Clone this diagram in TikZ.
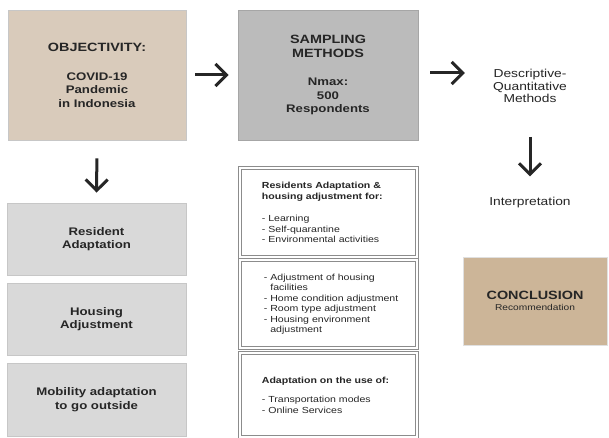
\documentclass[tikz,border=0pt]{standalone}
\usepackage{fontspec}
\setmainfont{Liberation Sans}[FakeStretch=1.2]
\usetikzlibrary{arrows.meta}
\definecolor{tanA}{RGB}{217,203,187}
\definecolor{tanB}{RGB}{204,181,152}
\definecolor{grayA}{RGB}{187,187,187}
\definecolor{grayB}{RGB}{217,217,217}
\definecolor{txt}{RGB}{38,38,38}
\begin{document}
\begin{tikzpicture}[x=1pt,y=-1pt,
  bigbox/.style={draw=black!22, line width=0.8pt, inner sep=0pt, align=center, text=txt,
    font=\bfseries\fontsize{11}{13.5}\selectfont},
  listbox/.style={draw=black!45, double=white, double distance=2pt, line width=0.6pt, inner sep=0pt},
  listtext/.style={align=left, anchor=west, inner sep=0pt, text=txt, font=\fontsize{8.8}{10.5}\selectfont},
  plain/.style={align=center, inner sep=0pt, text=txt, font=\fontsize{11.5}{12.5}\selectfont},
  arr/.style={-{Straight Barb[length=11pt,width=22pt]}, line width=3pt, black!85}]
\useasboundingbox (0,0) rectangle (609,438);
\fill[white] (0,0) rectangle (609,438);

% top row
\node[bigbox, fill=tanA, minimum width=178, minimum height=130] (obj) at (97,75)
  {{\fontsize{12}{13.5}\selectfont OBJECTIVITY:}\\[15.5pt]COVID-19\\Pandemic\\in Indonesia};
\node[bigbox, draw=black!35, fill=grayA, minimum width=180, minimum height=130] (samp) at (328,75)
  {{\fontsize{12}{13.5}\selectfont SAMPLING}\\{\fontsize{12}{13.5}\selectfont METHODS}\\[15pt]Nmax:\\500\\Respondents};
\node[plain, text width=84pt] (desc) at (530,86) {Descriptive-\\Quantitative\\Methods};
\node[plain] (interp) at (530,203) {Interpretation};

\path (samp.east -| desc.west) coordinate (a2end);
\draw[arr, shorten <=9pt, shorten >=9pt] (obj.east) -- (samp.west);
\draw[arr, shorten <=12pt, shorten >=23pt] ([yshift=2pt]samp.east) -- ([yshift=2pt]a2end);
\draw[arr, shorten <=34pt, shorten >=21pt] (desc.south) -- (interp.north);

% left column
\node[bigbox, fill=grayB, minimum width=179, minimum height=72] (ra) at (96.5,239) {Resident\\Adaptation};
\node[bigbox, fill=grayB, minimum width=179, minimum height=72] (ha) at (96.5,319) {Housing\\Adjustment};
\node[bigbox, fill=grayB, minimum width=179, minimum height=73] (ma) at (96.5,399.5) {Mobility adaptation\\to go outside};
\draw[arr, shorten <=18pt, shorten >=10pt] (obj.south) -- (ra.north);

% middle column
\node[listbox, minimum width=177, minimum height=89] (la) at (328.5,212.5) {};
\node[listtext] (lat) at ([xshift=22pt]la.west)
  {\textbf{Residents Adaptation \&}\\\textbf{housing adjustment for:}\\[12pt]- Learning\\- Self-quarantine\\- Environmental activities};
\node[listbox, minimum width=177, minimum height=88] (lb) at (328.5,304) {};
\node[listtext] (lbt) at ([xshift=24pt]lb.west)
  {- Adjustment of housing\\\phantom{- }facilities\\- Home condition adjustment\\- Room type adjustment\\- Housing environment\\\phantom{- }adjustment};
\node[listbox, minimum width=177, minimum height=84] (lc) at (328.5,395) {};
\node[listtext] (lct) at ([xshift=22pt]lc.west)
  {\textbf{Adaptation on the use of:}\\[9pt]- Transportation modes\\- Online Services};

% conclusion
\node[bigbox, draw=black!12, fill=tanB, minimum width=144, minimum height=88] (conc) at (535,301)
  {{\fontsize{12}{12}\selectfont CONCLUSION}\\[-2pt]{\mdseries\fontsize{8.5}{10}\selectfont Recommendation}};
\end{tikzpicture}
\end{document}
